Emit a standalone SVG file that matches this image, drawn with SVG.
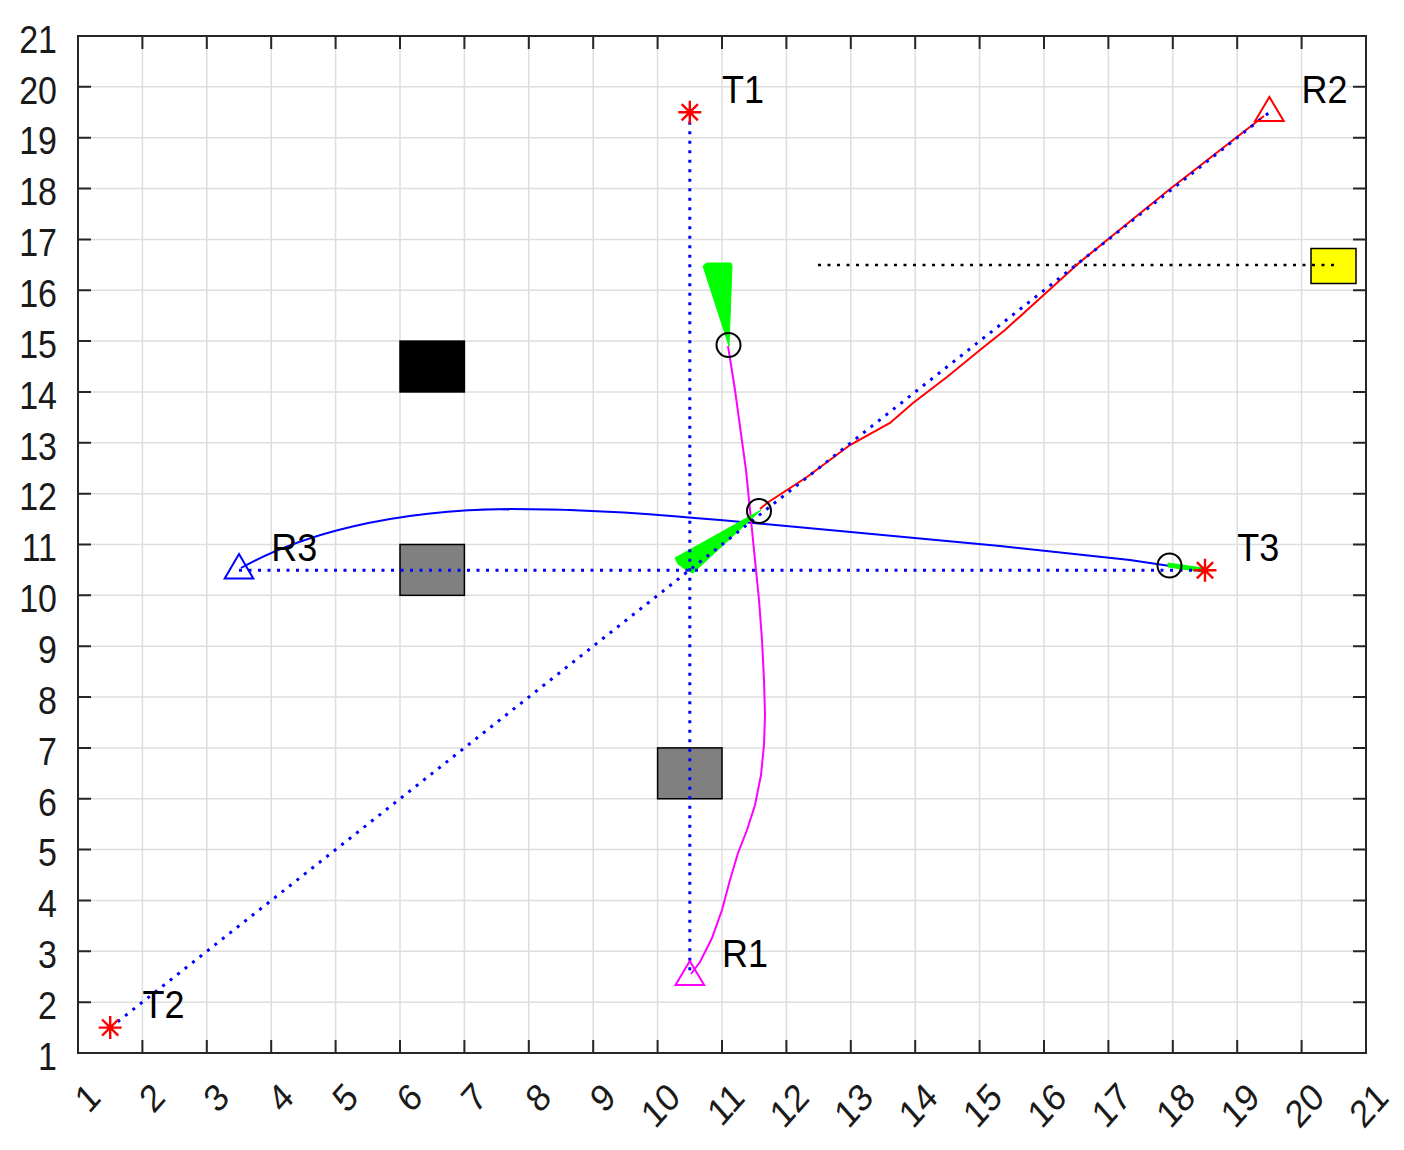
<svg xmlns="http://www.w3.org/2000/svg" width="1404" height="1150" viewBox="0 0 1404 1150">
<style>
.grid{stroke:#dedede;stroke-width:1.5;fill:none}
.axis{stroke:#262626;stroke-width:2;fill:none}
.tick{stroke:#262626;stroke-width:2}
.lbl{font-family:"Liberation Sans",Arial,sans-serif;font-size:34px;fill:#1a1a1a}
.ylbl{text-anchor:end}
.xlbl{text-anchor:end}
.name{font-family:"Liberation Sans",Arial,sans-serif;font-size:36px;fill:#000}
.bdot{stroke:#0000ff;stroke-width:3;stroke-dasharray:3 6.5;fill:none}
.kdot{stroke:#000;stroke-width:2.5;stroke-dasharray:3 6.5;fill:none}
.circ{fill:none;stroke:#000;stroke-width:2}
.star{stroke:#ff0000;stroke-width:2.4;fill:none}
.obs{stroke:#000;stroke-width:1.5}
.fan{fill:#00ff00;stroke:#00ff00;stroke-width:1}
</style>
<rect x="0" y="0" width="1404" height="1150" fill="#fff"/>
<g id="grid">
<path class="grid" d="M142.4,36V1053M206.8,36V1053M271.2,36V1053M335.6,36V1053M400,36V1053M464.4,36V1053M528.8,36V1053M593.2,36V1053M657.6,36V1053M722,36V1053M786.4,36V1053M850.8,36V1053M915.2,36V1053M979.6,36V1053M1044,36V1053M1108.4,36V1053M1172.8,36V1053M1237.2,36V1053M1301.6,36V1053"/>
<path class="grid" d="M78,1002.15H1366M78,951.3H1366M78,900.45H1366M78,849.6H1366M78,798.75H1366M78,747.9H1366M78,697.05H1366M78,646.2H1366M78,595.35H1366M78,544.5H1366M78,493.65H1366M78,442.8H1366M78,391.95H1366M78,341.1H1366M78,290.25H1366M78,239.4H1366M78,188.55H1366M78,137.7H1366M78,86.85H1366"/>
</g>
<g id="axes">
<rect class="axis" x="78" y="36" width="1288" height="1017"/>
<path class="tick" d="M142.4,1053v-13M206.8,1053v-13M271.2,1053v-13M335.6,1053v-13M400,1053v-13M464.4,1053v-13M528.8,1053v-13M593.2,1053v-13M657.6,1053v-13M722,1053v-13M786.4,1053v-13M850.8,1053v-13M915.2,1053v-13M979.6,1053v-13M1044,1053v-13M1108.4,1053v-13M1172.8,1053v-13M1237.2,1053v-13M1301.6,1053v-13"/>
<path class="tick" d="M142.4,36v13M206.8,36v13M271.2,36v13M335.6,36v13M400,36v13M464.4,36v13M528.8,36v13M593.2,36v13M657.6,36v13M722,36v13M786.4,36v13M850.8,36v13M915.2,36v13M979.6,36v13M1044,36v13M1108.4,36v13M1172.8,36v13M1237.2,36v13M1301.6,36v13"/>
<path class="tick" d="M78,1002.15h13M78,951.3h13M78,900.45h13M78,849.6h13M78,798.75h13M78,747.9h13M78,697.05h13M78,646.2h13M78,595.35h13M78,544.5h13M78,493.65h13M78,442.8h13M78,391.95h13M78,341.1h13M78,290.25h13M78,239.4h13M78,188.55h13M78,137.7h13M78,86.85h13"/>
<path class="tick" d="M1366,1002.15h-13M1366,951.3h-13M1366,900.45h-13M1366,849.6h-13M1366,798.75h-13M1366,747.9h-13M1366,697.05h-13M1366,646.2h-13M1366,595.35h-13M1366,544.5h-13M1366,493.65h-13M1366,442.8h-13M1366,391.95h-13M1366,341.1h-13M1366,290.25h-13M1366,239.4h-13M1366,188.55h-13M1366,137.7h-13M1366,86.85h-13"/>
</g>
<g id="ylabels" class="lbl ylbl">
<text transform="translate(57,1070) scale(1,1.13)">1</text>
<text transform="translate(57,1019) scale(1,1.13)">2</text>
<text transform="translate(57,968) scale(1,1.13)">3</text>
<text transform="translate(57,917) scale(1,1.13)">4</text>
<text transform="translate(57,866) scale(1,1.13)">5</text>
<text transform="translate(57,816) scale(1,1.13)">6</text>
<text transform="translate(57,765) scale(1,1.13)">7</text>
<text transform="translate(57,714) scale(1,1.13)">8</text>
<text transform="translate(57,663) scale(1,1.13)">9</text>
<text transform="translate(57,612) scale(1,1.13)">10</text>
<text transform="translate(57,561) scale(1,1.13)">11</text>
<text transform="translate(57,510) scale(1,1.13)">12</text>
<text transform="translate(57,460) scale(1,1.13)">13</text>
<text transform="translate(57,409) scale(1,1.13)">14</text>
<text transform="translate(57,358) scale(1,1.13)">15</text>
<text transform="translate(57,307) scale(1,1.13)">16</text>
<text transform="translate(57,256) scale(1,1.13)">17</text>
<text transform="translate(57,205) scale(1,1.13)">18</text>
<text transform="translate(57,154) scale(1,1.13)">19</text>
<text transform="translate(57,104) scale(1,1.13)">20</text>
<text transform="translate(57,53) scale(1,1.13)">21</text>
</g>
<g id="xlabels" class="lbl xlbl">
<text dy="0.35em" transform="translate(94,1090) scale(1,1.13) rotate(-45)">1</text>
<text dy="0.35em" transform="translate(158.4,1090) scale(1,1.13) rotate(-45)">2</text>
<text dy="0.35em" transform="translate(222.8,1090) scale(1,1.13) rotate(-45)">3</text>
<text dy="0.35em" transform="translate(287.2,1090) scale(1,1.13) rotate(-45)">4</text>
<text dy="0.35em" transform="translate(351.6,1090) scale(1,1.13) rotate(-45)">5</text>
<text dy="0.35em" transform="translate(416,1090) scale(1,1.13) rotate(-45)">6</text>
<text dy="0.35em" transform="translate(480.4,1090) scale(1,1.13) rotate(-45)">7</text>
<text dy="0.35em" transform="translate(544.8,1090) scale(1,1.13) rotate(-45)">8</text>
<text dy="0.35em" transform="translate(609.2,1090) scale(1,1.13) rotate(-45)">9</text>
<text dy="0.35em" transform="translate(673.6,1090) scale(1,1.13) rotate(-45)">10</text>
<text dy="0.35em" transform="translate(738,1090) scale(1,1.13) rotate(-45)">11</text>
<text dy="0.35em" transform="translate(802.4,1090) scale(1,1.13) rotate(-45)">12</text>
<text dy="0.35em" transform="translate(866.8,1090) scale(1,1.13) rotate(-45)">13</text>
<text dy="0.35em" transform="translate(931.2,1090) scale(1,1.13) rotate(-45)">14</text>
<text dy="0.35em" transform="translate(995.6,1090) scale(1,1.13) rotate(-45)">15</text>
<text dy="0.35em" transform="translate(1060,1090) scale(1,1.13) rotate(-45)">16</text>
<text dy="0.35em" transform="translate(1124.4,1090) scale(1,1.13) rotate(-45)">17</text>
<text dy="0.35em" transform="translate(1188.8,1090) scale(1,1.13) rotate(-45)">18</text>
<text dy="0.35em" transform="translate(1253.2,1090) scale(1,1.13) rotate(-45)">19</text>
<text dy="0.35em" transform="translate(1317.6,1090) scale(1,1.13) rotate(-45)">20</text>
<text dy="0.35em" transform="translate(1382,1090) scale(1,1.13) rotate(-45)">21</text>
</g>
<g id="obstacles">
<rect id="obs-black" class="obs" x="400" y="341.1" width="64.4" height="50.85" fill="#000"/>
<rect id="obs-gray1" class="obs" x="400" y="544.5" width="64.4" height="50.85" fill="#808080"/>
<rect id="obs-gray2" class="obs" x="657.6" y="747.9" width="64.4" height="50.85" fill="#808080"/>
<rect id="obs-yellow" class="obs" x="1311" y="248.5" width="45" height="35" fill="#ffff00"/>
</g>
<g id="connectors">
<path class="kdot" d="M818,265H1334"/>
<path id="path-R3" d="M241,568 C300,535 390,510 510,509 C590,509 650,514 720,520 L840,531 L1000,546 L1130,560 L1170,566" fill="none" stroke="#0000ff" stroke-width="2"/>
<polyline id="path-R2" points="1264,116 1170,189 1080,262 1005,330 980,350 947,377 913,403 890,423 850,445 807,477 767,503 760,509" fill="none" stroke="#ff0000" stroke-width="2"/>
<polyline id="path-R1" points="691,974 700,962 712,938 722,910 730,880 738,853 747,830 755,805 761,775 764,745 765,715 764,680 762,640 759,600 753,540 746,470 735,390 728,346" fill="none" stroke="#ff00ff" stroke-width="2"/>
<polygon class="fan" points="729,346 703,266 707,263 731,263 732,266"/>
<polygon class="fan" points="761,510 675,558 678,564 686,570 693,573"/>
<polygon class="fan" points="1168,563 1203,568 1203,572 1168,567"/>
<path class="bdot" d="M689.8,112.3V976.7"/>
<path class="bdot" d="M110.2,1027.6L1269.4,112.3"/>
<path class="bdot" d="M239,570.3H1205"/>
</g>
<g id="circles">
<circle class="circ" cx="728.5" cy="345" r="12"/>
<circle class="circ" cx="759" cy="511" r="12"/>
<circle class="circ" cx="1169.5" cy="565.5" r="12"/>
</g>
<g id="T1">
<path class="star" d="M678.3,112.3h23M689.8,100.8v23M681.7,104.2l16.2,16.2M697.9,104.2l-16.2,16.2"/>
<text class="name" transform="translate(722,103) scale(1,1.09)">T1</text>
</g>
<g id="T2">
<path class="star" d="M98.7,1027.6h23M110.2,1016.1v23M102.1,1019.5l16.2,16.2M118.3,1019.5l-16.2,16.2"/>
<text class="name" transform="translate(142.4,1018) scale(1,1.09)">T2</text>
</g>
<g id="T3">
<path class="star" d="M1193.5,570.3h23M1205,558.8v23M1196.9,562.2l16.2,16.2M1213.1,562.2l-16.2,16.2"/>
<text class="name" transform="translate(1237.2,560.5) scale(1,1.09)">T3</text>
</g>
<g id="R1">
<polygon points="689.8,961 675.5,985 704.1,985" fill="none" stroke="#ff00ff" stroke-width="2"/>
<text class="name" transform="translate(722,967) scale(1,1.09)">R1</text>
</g>
<g id="R2">
<polygon points="1269.4,97 1255.1,121 1283.7,121" fill="none" stroke="#ff0000" stroke-width="2"/>
<text class="name" transform="translate(1301.6,103) scale(1,1.09)">R2</text>
</g>
<g id="R3">
<polygon points="239,554 224.7,578.5 253.3,578.5" fill="none" stroke="#0000ff" stroke-width="2"/>
<text class="name" transform="translate(271.2,560.5) scale(1,1.09)">R3</text>
</g>
</svg>
